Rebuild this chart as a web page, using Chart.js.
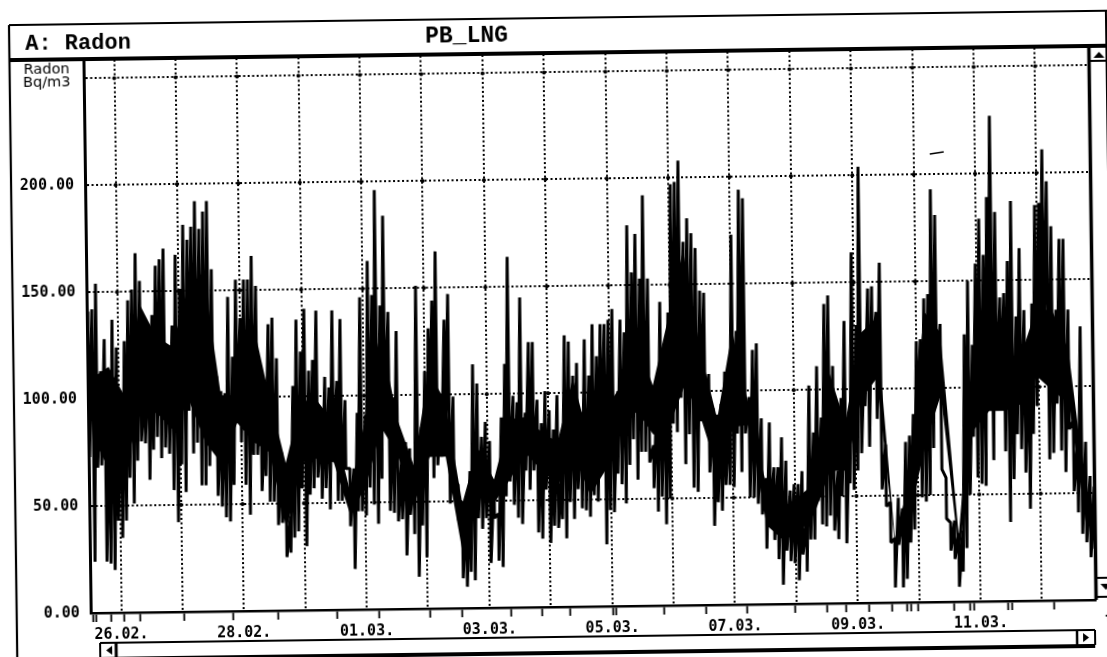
<!DOCTYPE html>
<html>
<head>
<meta charset="utf-8">
<script src="https://cdn.jsdelivr.net/npm/chart.js@4"></script>
<style>
html,body{margin:0;padding:0;background:#fff;width:1107px;height:657px;overflow:hidden}
#c{position:absolute;left:0;top:0;transform-origin:553px 328px;transform:rotate(-0.75deg)}
</style>
</head>
<body>
<canvas id="c" width="1135" height="685"></canvas>
<script>
const panelTitle = 'A: Radon';
const chartTitle = 'PB_LNG';
const unitLines = ['Radon', 'Bq/m3'];
const yTickValues = [0, 50, 100, 150, 200, 250];
const yTickLabels = ['0.00', '50.00', '100.00', '150.00', '200.00', ''];
const xGridDays = [0,1,2,3,4,5,6,7,8,9,10,11,12,13,14,15];
const xTickLabels = ['26.02.','28.02.','01.03.','03.03.','05.03.','07.03.','09.03.','11.03.'];
const eventDays = [-0.46,-0.40,-0.17,0.05,0.31,1.02,1.82,2.55,3.51,4.20,5.04,5.55,6.36,6.85,7.32,8.01,8.07,8.85,9.52,10.20,10.97,11.50,11.81,12.19,12.56,12.80,12.87,12.98,13.57,13.82,13.90,14.44,14.52,15.20];
const firstDay = -0.48;
const dayStep = 0.06515;
const peaks = [
141,142,154,113,128,98,137,124,101,127,146,151,168,155,107,126,139,162,165,170,124,134,167,151,181,174,180,192,179,187,192,160,110,103,102,147,119,155,137,155,155,166,152,109,98,134,137,118,74,62,44,105,136,121,141,112,117,140,88,109,104,140,107,136,98,
66,66,92,146,91,163,147,196,142,184,139,99,130,71,78,75,64,151,85,111,131,144,167,97,135,147,99,58,50,49,64,114,105,80,87,78,60,44,89,114,164,99,96,145,91,124,124,97,86,101,92,83,99,64,127,124,108,114,91,125,108,132,117,132,132,
134,139,97,134,128,178,156,174,153,192,153,75,102,142,119,137,197,198,208,170,181,174,167,147,146,108,92,89,94,109,97,173,128,194,190,97,119,122,87,59,85,64,64,78,67,53,56,56,62,39,102,80,111,87,140,144,111,62,96,132,84,164,
130,204,119,147,148,136,159,74,47,30,49,44,75,78,88,122,123,142,144,193,181,130,58,37,38,32,33,125,150,120,158,179,162,189,227,182,142,144,159,187,133,165,136,119,139,185,186,211,196,175,136,169,169,136,84,74,128,74,58,53];
const troughs = [
73,24,68,69,24,23,20,43,35,43,63,51,71,80,79,62,76,82,72,77,74,57,42,69,56,94,74,79,59,59,68,80,54,49,44,42,59,88,79,59,45,73,73,56,63,51,51,40,41,25,27,34,37,57,30,54,57,62,52,57,47,74,51,51,66,
39,19,46,46,44,57,49,40,61,85,46,45,41,42,25,44,35,15,39,24,71,61,67,71,75,49,58,41,14,10,17,13,42,37,42,21,42,22,19,52,59,48,42,39,64,55,64,35,32,55,30,38,37,41,32,49,41,55,46,45,42,52,49,66,29,
45,44,62,57,48,66,78,59,72,72,67,55,44,51,38,50,85,81,97,66,80,55,53,86,89,62,37,48,44,56,56,55,80,62,80,50,50,47,42,26,41,30,21,9,25,20,19,11,23,15,30,30,48,37,36,41,34,30,50,28,56,53,
62,70,92,73,115,86,53,45,28,7,27,7,11,28,34,81,49,47,50,72,98,62,39,24,20,7,14,25,50,77,58,55,54,105,66,94,95,70,37,57,78,71,60,43,78,91,108,120,66,69,92,70,60,80,51,41,31,27,20,24];
const coreFirstDay = -0.415;
const coreStep = 0.2606;
const coreUpper = [110,115,101,144,129,124,151,159,101,101,137,101,69,98,98,88,
55,89,130,89,67,111,97,49,75,60,88,89,82,77,107,77,92,
103,125,103,134,166,119,87,128,92,56,45,50,56,109,84,
126,133,30,58,136,126,31,111,153,108,114,136,136,117,50];
const coreLower = [82,66,69,95,93,85,99,79,69,88,79,74,38,69,71,69,
44,58,85,72,49,71,71,25,55,49,60,72,64,57,72,52,64,
84,91,80,84,103,87,62,83,84,37,30,33,42,62,62,
95,105,27,42,74,97,22,80,89,89,92,105,98,92,33];

const seriesPoints = [];
peaks.forEach((p, i) => {
  seriesPoints.push({x: firstDay + i * dayStep, y: p});
  seriesPoints.push({x: firstDay + i * dayStep, y: troughs[i]});
});
const coreTop = coreUpper.map((v, i) => ({x: coreFirstDay + i * coreStep, y: v}));
const coreBottom = coreLower.map((v, i) => ({x: coreFirstDay + i * coreStep, y: v}));

const chrome = {
  id: 'chrome',
  beforeDatasetsDraw(chart) {
    const {ctx, scales: {x, y}} = chart;
    ctx.save();
    ctx.fillStyle = '#000';
    xGridDays.forEach(d => {
      yTickValues.slice(1).forEach(v => {
        ctx.beginPath();
        ctx.arc(x.getPixelForValue(d), y.getPixelForValue(v), 2, 0, Math.PI * 2);
        ctx.fill();
      });
    });
    ctx.restore();
  },
  afterDraw(chart) {
    const {ctx, chartArea: a} = chart;
    const W = chart.width;
    ctx.save();
    ctx.strokeStyle = '#000';
    ctx.fillStyle = '#000';
    const seg = (x1, y1, x2, y2, w) => {
      ctx.lineWidth = w;
      ctx.beginPath(); ctx.moveTo(x1, y1); ctx.lineTo(x2, y2); ctx.stroke();
    };
    const tri = (pts) => {
      ctx.beginPath(); ctx.moveTo(pts[0], pts[1]); ctx.lineTo(pts[2], pts[3]); ctx.lineTo(pts[4], pts[5]); ctx.closePath(); ctx.fill();
    };
    // outer frame and title bar
    seg(13, 18, W, 18, 2.2);
    seg(13, 18, 13, chart.height, 2.2);
    seg(13, a.top - 1, W, a.top - 1, 4);
    seg(a.right, a.top, a.right, a.bottom, 3.5);
    seg(1110, 18, 1110, 640, 2);
    // vertical scrollbar buttons
    seg(a.right, 68, 1110, 68, 2);
    tri([1097, 65, 1108, 65, 1102.5, 59]);
    seg(a.right, 585, 1110, 585, 2);
    seg(a.right, 604, 1110, 604, 2);
    tri([1097, 591, 1108, 591, 1102.5, 597]);
    // horizontal scrollbar
    seg(96, 637, 1091, 637, 2);
    seg(96, 637, 96, 652, 2);
    seg(1091, 637, 1091, 652, 2);
    seg(96, 653, 1091, 653, 4);
    seg(112, 637, 112, 652, 3);
    seg(1073, 637, 1073, 652, 2.5);
    tri([108, 640, 108, 649, 102, 644.5]);
    tri([1079, 640, 1079, 649, 1085, 644.5]);
    // scan speck
    seg(932, 159, 946, 157, 1.5);
    // text
    ctx.textBaseline = 'middle';
    ctx.textAlign = 'left';
    ctx.font = 'bold 22px "Liberation Mono"';
    ctx.fillText(panelTitle, 29, 37);
    ctx.font = 'bold 23px "Liberation Mono"';
    ctx.fillText(chartTitle, 429, 35);
    ctx.textAlign = 'center';
    ctx.font = '14.5px "DejaVu Sans"';
    ctx.fillText(unitLines[0], 50, 63);
    ctx.fillText(unitLines[1], 50, 76);
    ctx.textAlign = 'left';
    ctx.font = 'bold 15px "DejaVu Sans Mono"';
    ctx.fillText('t', 1101, 627);
    ctx.restore();
  }
};

new Chart(document.getElementById('c'), {
  type: 'line',
  plugins: [chrome],
  data: {
    datasets: [{
      label: 'Radon',
      data: seriesPoints,
      borderColor: '#000',
      backgroundColor: '#000',
      borderWidth: 3,
      borderJoinStyle: 'bevel',
      pointRadius: 0,
      tension: 0,
      fill: false
    }, {
      label: 'Radon dense band, upper',
      data: coreTop,
      borderColor: '#000',
      backgroundColor: '#000',
      borderWidth: 0,
      pointRadius: 0,
      tension: 0,
      fill: '+1'
    }, {
      label: 'Radon dense band, lower',
      data: coreBottom,
      borderColor: '#000',
      borderWidth: 0,
      pointRadius: 0,
      tension: 0,
      fill: false
    }]
  },
  options: {
    responsive: false,
    animation: false,
    devicePixelRatio: 1,
    layout: {padding: {left: 0, top: 54, right: 1135 - 1092.5, bottom: 0}},
    plugins: {legend: {display: false}, title: {display: false}, tooltip: {enabled: false}},
    scales: {
      x: {
        type: 'linear',
        position: 'bottom',
        weight: 1,
        min: -0.497,
        max: 15.88,
        afterBuildTicks: s => { s.ticks = xGridDays.map(v => ({value: v})); },
        afterFit: s => { s.height = 685 - 607 - 9; },
        grid: {
          color: c => '#000',
          lineWidth: 2,
          drawTicks: false
        },
        border: {display: false, dash: [2, 2.5]},
        ticks: {
          autoSkip: false,
          maxRotation: 0,
          padding: 4,
          color: '#000',
          font: {family: 'DejaVu Sans Mono', size: 15, weight: 'bold'},
          callback: v => (v % 2 === 0 ? (xTickLabels[v / 2] || '') : '')
        }
      },
      marks: {
        type: 'linear',
        position: 'bottom',
        weight: 0,
        min: -0.497,
        max: 15.88,
        afterBuildTicks: s => { s.ticks = eventDays.map(v => ({value: v})); },
        afterFit: s => { s.height = 9; },
        grid: {drawOnChartArea: false, drawTicks: true, tickLength: 9, tickColor: '#000', tickWidth: 1.8},
        border: {display: true, color: '#000', width: 2.5},
        ticks: {autoSkip: false, maxRotation: 0, callback: () => ''}
      },
      y: {
        type: 'linear',
        position: 'left',
        min: 0,
        max: 258.6,
        afterBuildTicks: s => { s.ticks = yTickValues.map(v => ({value: v})); },
        afterFit: s => { s.width = 87; },
        grid: {
          color: c => (c.tick && c.tick.value === 0 ? 'rgba(0,0,0,0)' : '#000'),
          lineWidth: 2,
          drawTicks: false
        },
        border: {display: true, color: '#000', width: 3, dash: [2, 2.5]},
        ticks: {
          padding: 11,
          color: '#000',
          font: {family: 'DejaVu Sans Mono', size: 15, weight: 'bold'},
          callback: v => yTickLabels[yTickValues.indexOf(v)] ?? ''
        }
      }
    }
  }
});
</script>
</body>
</html>
